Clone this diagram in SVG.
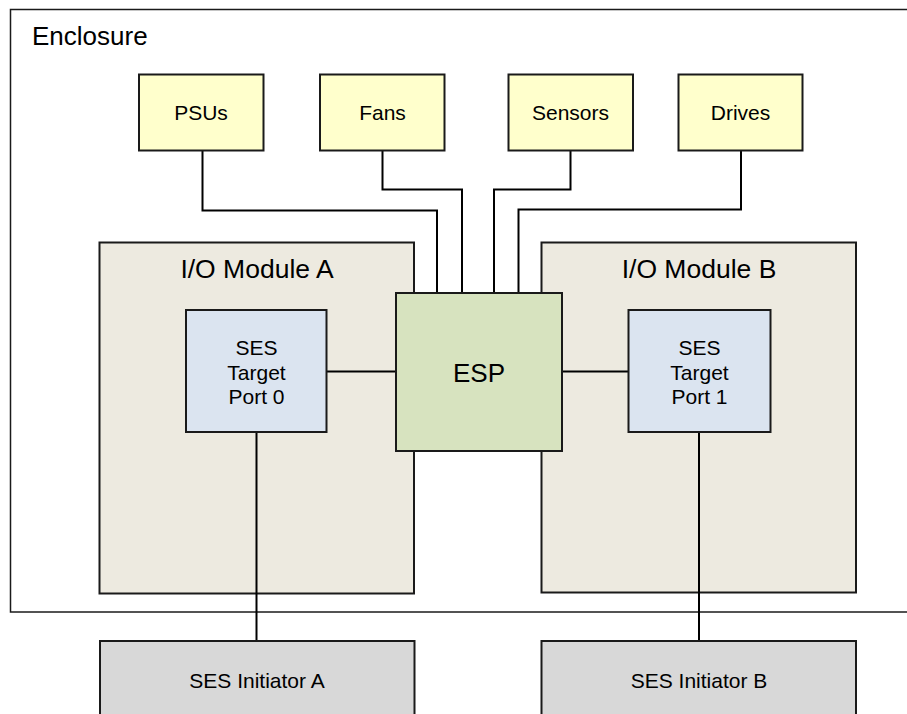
<svg xmlns="http://www.w3.org/2000/svg" width="907" height="714" viewBox="0 0 907 714">
<style>
text{font-family:"Liberation Sans",Arial,sans-serif;fill:#000;text-anchor:middle}
.box{stroke:#1a1a1a;stroke-width:2}
.dev{fill:#ffffcc}
.mod{fill:#edeae0}
.ses{fill:#dbe4f0}
.esp{fill:#d7e3bf}
.ini{fill:#d8d8d8}
.lbl{font-size:21px}
.big{font-size:26px}
.wire{fill:none;stroke:#000;stroke-width:2}
</style>
<g id="enclosure">
<rect x="10.5" y="9.5" width="910" height="602.5" fill="#fff" stroke="#1a1a1a" stroke-width="1.5"/>
<text x="32" y="45" class="big" style="text-anchor:start">Enclosure</text>
</g>
<g id="module-a">
<rect class="box mod" x="99.5" y="242.5" width="314.5" height="351"/>
<text x="257" y="278" style="font-size:26.5px">I/O Module A</text>
</g>
<g id="module-b">
<rect class="box mod" x="541.5" y="242.5" width="314.5" height="350"/>
<text x="699" y="278" style="font-size:26.5px">I/O Module B</text>
</g>
<g id="connectors">
<polyline class="wire" points="202.5,150 202.5,210.5 437,210.5 437,293"/>
<polyline class="wire" points="382.5,150 382.5,189.5 462,189.5 462,293"/>
<polyline class="wire" points="570.5,150 570.5,189.5 494,189.5 494,293"/>
<polyline class="wire" points="741,150 741,209.5 518.5,209.5 518.5,293"/>
<line class="wire" x1="326.5" y1="371.5" x2="396" y2="371.5"/>
<line class="wire" x1="562" y1="371.5" x2="628.5" y2="371.5"/>
<line class="wire" x1="256.5" y1="432" x2="256.5" y2="641"/>
<line class="wire" x1="699" y1="432" x2="699" y2="641"/>
</g>
<g id="psus">
<rect class="box dev" x="139" y="74.5" width="124.5" height="76"/>
<text x="201" y="120" class="lbl">PSUs</text>
</g>
<g id="fans">
<rect class="box dev" x="320" y="74.5" width="124.5" height="76"/>
<text x="382.5" y="120" class="lbl">Fans</text>
</g>
<g id="sensors">
<rect class="box dev" x="508.5" y="74.5" width="124.5" height="76"/>
<text x="570.5" y="120" class="lbl">Sensors</text>
</g>
<g id="drives">
<rect class="box dev" x="678.5" y="74.5" width="124" height="76"/>
<text x="740.5" y="120" class="lbl">Drives</text>
</g>
<g id="esp">
<rect class="box esp" x="396" y="293" width="166" height="158"/>
<text x="479" y="381.5" style="font-size:26px">ESP</text>
</g>
<g id="ses-target-0">
<rect class="box ses" x="186" y="310" width="140.5" height="122"/>
<text x="256.5" y="355" class="lbl">SES</text>
<text x="256.5" y="380" class="lbl">Target</text>
<text x="256.5" y="404" class="lbl">Port 0</text>
</g>
<g id="ses-target-1">
<rect class="box ses" x="628.5" y="310" width="142" height="122"/>
<text x="699.5" y="355" class="lbl">SES</text>
<text x="699.5" y="380" class="lbl">Target</text>
<text x="699.5" y="404" class="lbl">Port 1</text>
</g>
<g id="initiator-a">
<rect class="box ini" x="100" y="641" width="314.5" height="80"/>
<text x="257" y="688" class="lbl">SES Initiator A</text>
</g>
<g id="initiator-b">
<rect class="box ini" x="541.5" y="641" width="314.5" height="80"/>
<text x="699" y="688" class="lbl">SES Initiator B</text>
</g>
</svg>
